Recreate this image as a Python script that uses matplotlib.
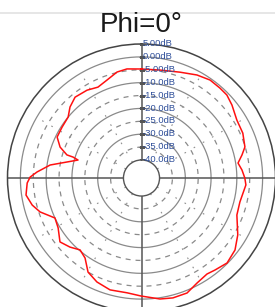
import numpy as np
import matplotlib
matplotlib.use("Agg")
import matplotlib.pyplot as plt
from matplotlib.lines import Line2D

# ---- data -------------------------------------------------------------
theta_deg = [0, 9.7, 20.0, 28.3, 35.0, 41.1, 45.8, 51.1, 58.7, 66.1, 73.3, 77.1,
             81.2, 85.4, 90.0, 93.8, 103.7, 111.2, 120.6, 127.6, 134.8, 141.4,
             145.7, 152.1, 158.4, 165.3, 171.3, 180.2, 187.2, 195.7, 203.2,
             209.6, 215.2, 220.5, 226.0, 231.9, 239.1, 245.2, 251.5, 256.1,
             261.6, 267.5, 270.5, 273.3, 278.1, 282.1, 285.8, 287.0, 287.2,
             290.8, 295.9, 302.7, 309.7, 314.8, 320.6, 328.2, 334.4, 340.6,
             347.0, 352.4, 360.0]
gain_db = [-4.7, -4.5, -3.3, -1.6, -0.6, -0.7, -0.8, -1.9, -3.7, -4.0, -5.1, -7.0,
           -9.1, -7.9, -6.9, -6.4, -7.7, -7.3, -3.6, -1.2, -0.2, -1.3,
           -1.9, -0.9, 1.0, 1.1, 0.5, -1.2, -2.1, -1.9, -3.1,
           -5.0, -9.0, -10.3, -8.4, -6.8, -9.3, -10.0, -5.5, -3.3,
           -1.7, -2.6, -3.8, -6.4, -11.2, -17.4, -21.4, -19.2, -16.7,
           -13.2, -10.6, -10.4, -10.0, -7.9, -6.4, -6.9, -7.9, -6.7,
           -4.8, -4.3, -4.7]
ring_levels = [5, 0, -5, -10, -15, -20, -25, -30, -35, -40]
ring_labels = ["5.00dB", "0.00dB", "-5.00dB", "-10.0dB", "-15.0dB", "-20.0dB",
               "-25.0dB", "-30.0dB", "-35.0dB", "-40.0dB"]
title = "Phi=0°"

# ---- figure -----------------------------------------------------------
W, H = 275, 307
fig = plt.figure(figsize=(W / 100, H / 100), dpi=100)
fig.patch.set_facecolor("white")

cx, cy, R = 141.5, 178.0, 134.0
ax = fig.add_axes([(cx - R) / W, (H - cy - R) / H, 2 * R / W, 2 * R / H],
                  projection="polar")
ax.set_theta_zero_location("N")
ax.set_theta_direction(-1)
ax.set_rorigin(-47)
ax.set_rlim(-40, 5)
ax.grid(False)
ax.set_xticks([])
ax.set_yticks([])
ax.spines["polar"].set_color("#444444")
ax.spines["polar"].set_linewidth(1.1)
ax.spines["inner"].set_color("#555555")
ax.spines["inner"].set_linewidth(1.0)

full = np.linspace(0, 2 * np.pi, 721)
for lev in ring_levels[1:-1]:
    if lev % 10 == 0:
        ax.plot(full, np.full_like(full, lev), color="#8a8a8a", lw=0.9, zorder=1)
    else:
        ax.plot(full, np.full_like(full, lev), color="#8a8a8a", lw=0.9,
                ls=(0, (4, 4)), zorder=1)

# light radial marks
for a in range(0, 360, 30):
    if a % 90 == 0:
        continue
    ax.plot([np.deg2rad(a)] * 2, [-40, 0], color="#8f8f8f", lw=0.8,
            ls=(0, (1.5, 8)), zorder=1)

# main axes lines
for a in (0, 90, 180, 270):
    ax.plot([np.deg2rad(a)] * 2, [-40, 5], color="#555555", lw=1.1, zorder=2)

# small ticks on vertical axis
ax.plot(np.zeros(len(ring_levels)), ring_levels, ls="none", marker="_",
        ms=4, mew=0.8, color="#555555", zorder=3)

# data curve
ax.plot(np.deg2rad(theta_deg), gain_db, color="#ff1010", lw=1.1, zorder=4)

for lev, lbl in zip(ring_levels, ring_labels):
    ax.annotate(lbl, xy=(0, lev), xytext=(1.0, 0.3), textcoords="offset points",
                ha="left", va="center", fontsize=6.8, color="#2f4f9a",
                family="Liberation Sans", zorder=5, annotation_clip=False)

fig.text(cx / W, 1 - 32 / H, title, ha="center", va="baseline", fontsize=20,
         family="Liberation Sans", color="#1a1a1a")
fig.add_artist(Line2D([0, 1], [1 - 13 / H] * 2, transform=fig.transFigure,
                      color="#e2e2e2", lw=1.2))

fig.savefig("out.png", dpi=100)
